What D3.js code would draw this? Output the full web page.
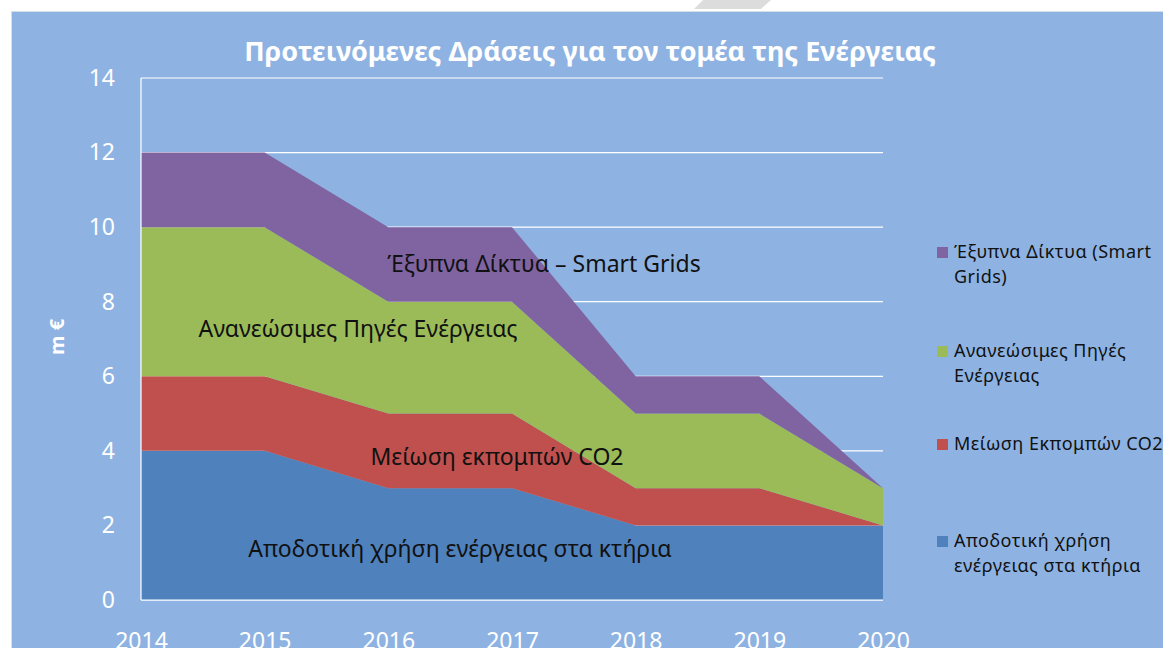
<!DOCTYPE html>
<html>
<head>
<meta charset="utf-8">
<script src="https://cdn.jsdelivr.net/npm/d3@7"></script>
<style>
  html, body { margin: 0; padding: 0; background: #ffffff; }
  svg { display: block; }
  text { font-family: "Noto Sans", "Open Sans", sans-serif; }
</style>
</head>
<body>
<script>
// Proposed energy-sector actions, million euro per year (stacked)
const years = ["2014", "2015", "2016", "2017", "2018", "2019", "2020"];
const buildings = [4, 4, 3, 3, 2, 2, 2];   // Αποδοτική χρήση ενέργειας στα κτήρια
const co2 = [2, 2, 2, 2, 1, 1, 0];         // Μείωση εκπομπών CO2
const renewables = [4, 4, 3, 3, 2, 2, 1];  // Ανανεώσιμες Πηγές Ενέργειας
const smartGrids = [2, 2, 2, 2, 1, 1, 0];  // Έξυπνα Δίκτυα
const yTicks = [0, 2, 4, 6, 8, 10, 12, 14];

const seriesKeys = ["buildings", "co2", "renewables", "smartGrids"];
const seriesColors = {
  buildings: "#4f81bd",
  co2: "#c0504d",
  renewables: "#9bbb59",
  smartGrids: "#8064a2"
};
const inChartLabels = {
  buildings: "Αποδοτική χρήση ενέργειας στα κτήρια",
  co2: "Μείωση εκπομπών CO2",
  renewables: "Ανανεώσιμες Πηγές Ενέργειας",
  smartGrids: "Έξυπνα Δίκτυα – Smart Grids"
};
const legendLabels = {
  smartGrids: ["Έξυπνα Δίκτυα (Smart", "Grids)"],
  renewables: ["Ανανεώσιμες Πηγές", "Ενέργειας"],
  co2: ["Μείωση Εκπομπών CO2"],
  buildings: ["Αποδοτική χρήση", "ενέργειας στα κτήρια"]
};

const table = years.map((y, i) => ({
  year: y,
  buildings: buildings[i],
  co2: co2[i],
  renewables: renewables[i],
  smartGrids: smartGrids[i]
}));

const W = 1163, H = 648;
const plot = { left: 141, right: 883, top: 78, bottom: 600 };

const svg = d3.select("body").append("svg")
  .attr("width", W).attr("height", H);

// Chart frame background
svg.append("rect")
  .attr("x", 11).attr("y", 11).attr("width", W - 11).attr("height", H - 11)
  .attr("fill", "#d6dfe9");
svg.append("rect")
  .attr("x", 12).attr("y", 12).attr("width", W - 12).attr("height", H - 12)
  .attr("fill", "#8eb3e2");

// Decorative slanted tab above the frame
svg.append("polygon")
  .attr("points", "703,0 771,0 761,9 694,9")
  .attr("fill", "#dcdcdc");

const x = d3.scalePoint().domain(years).range([plot.left, plot.right]);
const y = d3.scaleLinear().domain([0, 14]).range([plot.bottom, plot.top]);

// Horizontal gridlines
svg.append("g")
  .selectAll("line")
  .data(yTicks)
  .join("line")
  .attr("x1", plot.left).attr("x2", plot.right)
  .attr("y1", d => y(d)).attr("y2", d => y(d))
  .attr("stroke", "#ffffff").attr("stroke-width", 1.2);

// Stacked areas
const stack = d3.stack().keys(seriesKeys);
const layers = stack(table);
const area = d3.area()
  .x(d => x(d.data.year))
  .y0(d => y(d[0]))
  .y1(d => y(d[1]));

svg.append("g")
  .selectAll("path")
  .data(layers)
  .join("path")
  .attr("d", area)
  .attr("fill", d => seriesColors[d.key]);

// Axis lines
svg.append("line")
  .attr("x1", plot.left).attr("x2", plot.left)
  .attr("y1", plot.top).attr("y2", plot.bottom)
  .attr("stroke", "#ffffff").attr("stroke-width", 1.2);
svg.append("line")
  .attr("x1", plot.left).attr("x2", plot.right)
  .attr("y1", plot.bottom).attr("y2", plot.bottom)
  .attr("stroke", "#ffffff").attr("stroke-width", 1.2);

// Y axis tick labels
const yAxis = d3.axisLeft(y).tickValues(yTicks).tickSize(0).tickPadding(26);
const gy = svg.append("g").attr("transform", `translate(${plot.left},0)`).call(yAxis);
gy.select(".domain").remove();
gy.selectAll("text")
  .attr("fill", "#ffffff")
  .style("font-size", "23px")
  .style("font-family", "'Noto Sans', sans-serif");

// X axis tick labels (the frame cuts them at the bottom edge)
const xAxis = d3.axisBottom(x).tickSize(0).tickPadding(33);
const gx = svg.append("g").attr("transform", `translate(0,${plot.bottom})`).call(xAxis);
gx.select(".domain").remove();
gx.selectAll("text")
  .attr("fill", "#ffffff")
  .style("font-size", "23px")
  .style("font-family", "'Noto Sans', sans-serif");

// Title
svg.append("text")
  .attr("x", 590).attr("y", 61)
  .attr("text-anchor", "middle")
  .attr("fill", "#ffffff")
  .style("font-size", "27px")
  .style("font-weight", "bold")
  .text("Προτεινόμενες Δράσεις για τον τομέα της Ενέργειας");

// Y axis title
svg.append("text")
  .attr("transform", "translate(64,337) rotate(-90)")
  .attr("text-anchor", "middle")
  .attr("fill", "#ffffff")
  .style("font-size", "20px")
  .style("font-weight", "bold")
  .text("m €");

// Labels inside the areas
const labelPos = {
  smartGrids: { x: 544, y: 272 },
  renewables: { x: 358, y: 337 },
  co2: { x: 497, y: 465 },
  buildings: { x: 460, y: 557 }
};
svg.append("g")
  .selectAll("text")
  .data(seriesKeys)
  .join("text")
  .attr("x", d => labelPos[d].x)
  .attr("y", d => labelPos[d].y)
  .attr("text-anchor", "middle")
  .attr("fill", "#111111")
  .style("font-size", "23px")
  .text(d => inChartLabels[d]);

// Legend
const legendOrder = ["smartGrids", "renewables", "co2", "buildings"];
const legendTop = { smartGrids: 258, renewables: 357, co2: 450, buildings: 547 };
const lg = svg.append("g");
legendOrder.forEach(k => {
  lg.append("rect")
    .attr("x", 937).attr("y", legendTop[k] - 11)
    .attr("width", 11).attr("height", 11)
    .attr("fill", seriesColors[k]);
  const t = lg.append("text")
    .attr("x", 954).attr("y", legendTop[k])
    .attr("fill", "#111111")
    .style("font-size", "18px")
    .style("letter-spacing", "0.5px");
  legendLabels[k].forEach((line, i) => {
    t.append("tspan").attr("x", 954).attr("dy", i === 0 ? 0 : 25).text(line);
  });
});
</script>
</body>
</html>
